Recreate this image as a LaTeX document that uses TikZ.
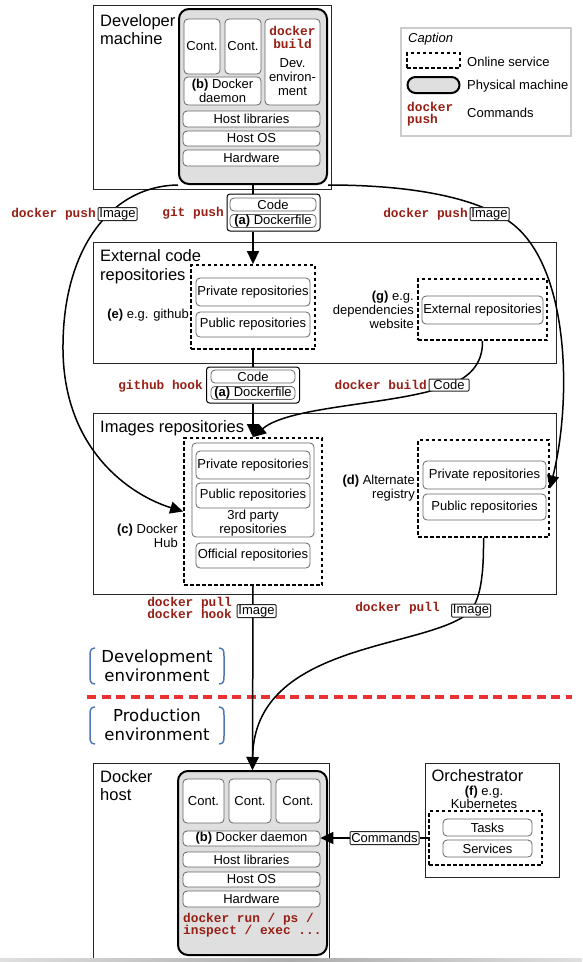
\documentclass[tikz,border=0pt]{standalone}
\usepackage{fontspec}
\setmainfont{Liberation Sans}
\setmonofont{Liberation Mono}
\newfontfamily\envfamily{DejaVu Sans}
\usepackage{tikz}
\usetikzlibrary{arrows.meta}
\usepackage{xcolor}

\definecolor{cmdred}{RGB}{150,32,22}
\definecolor{envblue}{RGB}{79,121,180}
\definecolor{cutred}{RGB}{235,50,50}

\newcommand{\bodyfont}{\fontsize{13}{14}\selectfont}
\newcommand{\tightfont}{\fontsize{13}{13.5}\selectfont}
\newcommand{\titlefont}{\fontsize{16.5}{18.5}\selectfont}
\newcommand{\cmdfont}{\ttfamily\bfseries\fontsize{12.8}{12.5}\selectfont}
\newcommand{\envfont}{\envfamily\fontsize{16.5}{19}\selectfont}

\tikzset{
  area/.style={draw=black!85, line width=1pt},
  machine/.style={draw, fill=gray!25, line width=2pt, rounded corners=10pt},
  part/.style={draw=black!60, fill=white, line width=0.8pt, rounded corners=4pt, inner sep=0.5pt, align=center, font=\bodyfont},
  online/.style={draw, line width=1.8pt, dash pattern=on 3.5pt off 2.5pt},
  tag/.style={draw=black!85, fill=white, line width=1pt, rounded corners=1pt, inner sep=0.5pt, font=\bodyfont},
  cmd/.style={font=\cmdfont, text=cmdred, align=left, inner sep=0pt},
  title/.style={font=\titlefont, align=left, anchor=north west, inner sep=0pt},
  lbl/.style={font=\bodyfont, align=right, anchor=east, inner sep=0pt},
  flow/.style={line width=1.5pt, -{Triangle[length=13pt,width=12pt]}},
  link/.style={line width=1.5pt},
  bracket/.style={envblue, line width=1.5pt},
}

\begin{document}
\begin{tikzpicture}[x=1pt,y=-1pt]
    \useasboundingbox (0,0) rectangle (582,962);

    % Developer machine
    \node[area, minimum width=238, minimum height=184] (devbox) at (212,97) {};
    \node[title] at (100,14) {Developer\\machine};
    \node[machine, minimum width=148, minimum height=175] (devmach) at (253,96.5) {};
    \node[part, minimum width=36, minimum height=55] (devc1) at (202,46.5) {Cont.};
    \node[part, minimum width=36, minimum height=55] (devc2) at (243,46.5) {Cont.};
    \node[part, minimum width=55, minimum height=86] (devenv) at (292.5,62) {};
    \node[cmd, align=center] at (292.5,37.5) {docker\\build};
    \node[font=\bodyfont, align=center, inner sep=0pt] at (292.5,77) {Dev.\\environ-\\ment};
    \node[part, minimum width=77, minimum height=28] (devdaemon) at (222.5,91) {\textbf{(b)} Docker\\daemon};
    \node[part, minimum width=137, minimum height=16] (devlib) at (251.5,119) {Host libraries};
    \node[part, minimum width=137, minimum height=15] (devos) at (251.5,138.5) {Host OS};
    \node[part, minimum width=137, minimum height=16] (devhw) at (251.5,158) {Hardware};

    % Caption
    \node[draw=black!20, line width=1.5pt, minimum width=170, minimum height=108] (caption) at (486,82) {};
    \node[font=\bodyfont\itshape, anchor=west, inner sep=0pt] at (408,39) {Caption};
    \node[online, minimum width=53, minimum height=15] (legonline) at (433.5,60.5) {};
    \node[font=\bodyfont, anchor=west, inner sep=0pt] at (467,62) {Online service};
    \node[machine, rounded corners=8pt, minimum width=52, minimum height=16] (legmach) at (433.5,85) {};
    \node[font=\bodyfont, anchor=west, inner sep=0pt] at (467,86) {Physical machine};
    \node[cmd, anchor=west] at (407,114) {docker\\push};
    \node[font=\bodyfont, anchor=west, inner sep=0pt] at (467,113) {Commands};

    % Code pushed to the code repositories
    \node[draw, fill=white, line width=1pt, rounded corners=3pt, minimum width=93, minimum height=37] (code1) at (273.5,212.5) {};
    \node[part, minimum width=86, minimum height=13] (code1a) at (273,204.5) {Code};
    \node[part, minimum width=86, minimum height=13] (code1b) at (273,221) {\textbf{(a)} Dockerfile};
    \node[cmd, anchor=east] at (224,213) {git push};

    % External code repositories
    \node[area, minimum width=463, minimum height=121] (extbox) at (324.5,302.5) {};
    \node[title] at (100,249.5) {External code\\repositories};
    \node[online, minimum width=124, minimum height=84] (github) at (253,307) {};
    \node[part, minimum width=114, minimum height=28] (ghpriv) at (253,292) {Private repositories};
    \node[part, minimum width=114, minimum height=25] (ghpub) at (253,324.5) {Public repositories};
    \node[lbl] at (189,315) {\textbf{(e)} e.g. github};
    \node[online, minimum width=129, minimum height=61] (gdash) at (482.5,309.5) {};
    \node[part, minimum width=121, minimum height=28] (gext) at (482.5,310) {External repositories};
    \node[lbl] at (414,310) {\textbf{(g)} e.g.\\dependencies\\website};

    % Code used to build the images
    \node[draw, fill=white, line width=1pt, rounded corners=3pt, minimum width=93, minimum height=36] (code2) at (253,385) {};
    \node[part, minimum width=84, minimum height=13] (code2a) at (253,376.5) {Code};
    \node[part, minimum width=84, minimum height=13] (code2b) at (253,393) {\textbf{(a)} Dockerfile};
    \node[cmd, anchor=east] at (203,386) {github hook};

    % Images repositories
    \node[area, minimum width=463, minimum height=181] (imgbox) at (324.5,503.5) {};
    \node[title] at (100,420) {Images repositories};
    \node[online, minimum width=138, minimum height=147] (hub) at (253,511.5) {};
    \node[part, minimum width=122, minimum height=94] (hubthird) at (253,490) {};
    \node[font=\bodyfont, align=center, inner sep=0pt] at (253,523) {3rd party\\repositories};
    \node[part, minimum width=114, minimum height=28] (hubpriv) at (253,465) {Private repositories};
    \node[part, minimum width=114, minimum height=25] (hubpub) at (253,495.5) {Public repositories};
    \node[part, minimum width=114, minimum height=25] (huboff) at (253,555.5) {Official repositories};
    \node[lbl] at (178,535.5) {\textbf{(c)} Docker\\Hub};
    \node[online, minimum width=131, minimum height=97] (altdash) at (483.5,488.5) {};
    \node[part, minimum width=123, minimum height=28] (altpriv) at (484.5,475) {Private repositories};
    \node[part, minimum width=123, minimum height=26] (altpub) at (484.5,507) {Public repositories};
    \node[lbl] at (415,488.5) {\textbf{(d)} Alternate\\registry};

    % Development / production
    \node[font=\envfont, align=center, inner sep=0pt] (devlabel) at (157,666) {Development\\environment};
    \draw[bracket] (95,648) .. controls (90,648) and (90,652) .. (90,656) -- (90,676) .. controls (90,680) and (90,684) .. (95,684);
    \draw[bracket] (219,648) .. controls (224,648) and (224,652) .. (224,656) -- (224,676) .. controls (224,680) and (224,684) .. (219,684);
    \draw[cutred, line width=4.5pt, dash pattern=on 9pt off 5.5pt] (87,697) -- (572,697);
    \node[font=\envfont, align=center, inner sep=0pt] (prodlabel) at (157,725) {Production\\environment};
    \draw[bracket] (95,707) .. controls (90,707) and (90,711) .. (90,715) -- (90,736) .. controls (90,740) and (90,744) .. (95,744);
    \draw[bracket] (219,707) .. controls (224,707) and (224,711) .. (224,715) -- (224,736) .. controls (224,740) and (224,744) .. (219,744);

    % Docker host
    \node[area, minimum width=236, minimum height=200] (hostbox) at (211,863) {};
    \node[title] at (100,770) {Docker\\host};
    \node[machine, minimum width=149, minimum height=184] (dockmach) at (252.5,863) {};
    \node[part, minimum width=41, minimum height=44] (hostc1) at (203.5,801) {Cont.};
    \node[part, minimum width=42, minimum height=44] (hostc2) at (250,801) {Cont.};
    \node[part, minimum width=44, minimum height=44] (hostc3) at (298,801) {Cont.};
    \node[part, minimum width=137, minimum height=15] (daemon) at (251.5,838.5) {\textbf{(b)} Docker daemon};
    \node[part, minimum width=137, minimum height=15] (hostlib) at (251.5,859.5) {Host libraries};
    \node[part, minimum width=137, minimum height=15] (hostos) at (251.5,879.5) {Host OS};
    \node[part, minimum width=137, minimum height=16] (hosthw) at (251.5,899) {Hardware};
    \node[cmd, anchor=west] at (183,925) {docker run / ps /\\inspect / exec ...};

    % Orchestrator
    \node[area, minimum width=134, minimum height=114] (orchbox) at (492,820) {};
    \node[font=\titlefont, inner sep=0pt] at (477.5,776) {Orchestrator};
    \node[font=\tightfont, align=center, inner sep=0pt] at (484,797.5) {\textbf{(f)} e.g.\\Kubernetes};
    \node[online, minimum width=113, minimum height=54] (orchdash) at (485.5,838) {};
    \node[part, minimum width=89, minimum height=17] (tasks) at (487.5,827.5) {Tasks};
    \node[part, minimum width=89, minimum height=17] (services) at (487.5,848.5) {Services};
    \node[tag, minimum width=69, minimum height=13] (cmdtag) at (384.5,838) {Commands};

    % connectors
    \draw[link] (devmach.south) -- (devmach.south |- code1.north);
    \draw[flow] (devmach.south |- code1.south) -- (github.north);
    \draw[link] (github.south) -- (code2.north);
    \draw[flow] (code2.south) -- (hub.north);
    \draw[flow] (hub.south) -- (dockmach.north);
    \draw[flow] (devmach.south west) .. controls (110,186) and (62,250) .. (63,350) .. controls (64,450) and (130,495) .. (hub.west);
    \draw[flow] (devmach.south east) .. controls (420,185) and (480,200) .. (510,222) .. controls (570,265) and (572,400) .. (altdash.east);
    \draw[flow] (gdash.south) .. controls (483,365) and (468,378) .. (449,385) .. controls (400,405) and (290,405) .. (hub.north);
    \draw[flow] (altdash.south) .. controls (484,585) and (478,600) .. (471,611) .. controls (430,650) and (254,640) .. (dockmach.north);
    \draw[flow] (cmdtag.west) -- (cmdtag.west -| daemon.east);
    \draw[link] (orchdash.west) -- (orchdash.west -| cmdtag.east);

    % labels on the connectors
    \node[cmd, anchor=east] at (96,214) {docker push};
    \node[tag, minimum width=39, minimum height=13] (limage) at (117.5,214) {Image};
    \node[cmd, anchor=east] at (468,214) {docker push};
    \node[tag, minimum width=39, minimum height=13] (rimage) at (489.5,214) {Image};
    \node[cmd, anchor=east] at (427,385) {docker build};
    \node[tag, minimum width=40, minimum height=12] (bcode) at (449,385) {Code};
    \node[cmd, anchor=east] at (232,608) {docker pull\\docker hook};
    \node[tag, minimum width=39, minimum height=13] (hubimage) at (256.5,611) {Image};
    \node[cmd, anchor=east] at (440,608) {docker pull};
    \node[tag, minimum width=39, minimum height=13] (altimage) at (471,610.5) {Image};

    % bottom edge
    \shade[left color=gray!25, right color=gray!25, middle color=gray!65] (0,958) rectangle (582,962);
\end{tikzpicture}
\end{document}
